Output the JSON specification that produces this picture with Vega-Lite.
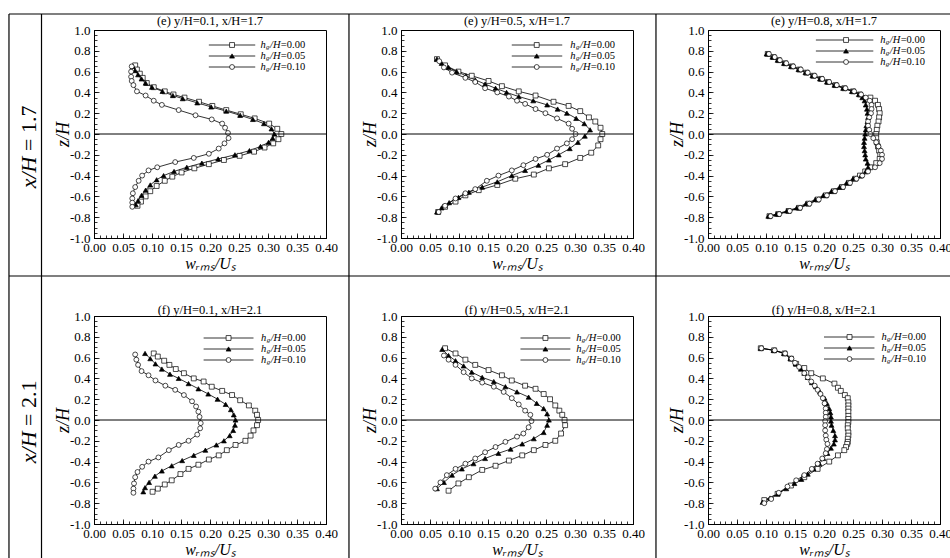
{
  "$schema": "https://vega.github.io/schema/vega-lite/v6.json",
  "background": "white",
  "padding": {"left": 7, "top": 12, "right": 0, "bottom": 0},
  "config": {
    "font": "Liberation Serif",
    "view": {"stroke": "black", "strokeWidth": 1},
    "axis": {"grid": false, "domainColor": "black", "domainWidth": 1, "tickColor": "black", "tickWidth": 0.8, "labelColor": "black", "titleColor": "black", "labelFont": "Liberation Serif", "titleFont": "Liberation Serif", "labelFontSize": 13, "titleFontWeight": "normal", "labelOverlap": false, "labelFlush": false},
    "text": {"font": "Liberation Serif", "fill": "black"}
  },
  "datasets": {
    "leg": [{"s": "0.00", "lab": "=0.00"}, {"s": "0.05", "lab": "=0.05"}, {"s": "0.10", "lab": "=0.10"}],
    "d": [
      {"p":1,"s":"0.00","w":0.071,"z":0.66},{"p":1,"s":"0.00","w":0.074,"z":0.62},{"p":1,"s":"0.00","w":0.079,"z":0.58},{"p":1,"s":"0.00","w":0.084,"z":0.54},{"p":1,"s":"0.00","w":0.091,"z":0.49},{"p":1,"s":"0.00","w":0.103,"z":0.45},{"p":1,"s":"0.00","w":0.122,"z":0.41},{"p":1,"s":"0.00","w":0.137,"z":0.38},{"p":1,"s":"0.00","w":0.156,"z":0.35},{"p":1,"s":"0.00","w":0.181,"z":0.31},{"p":1,"s":"0.00","w":0.204,"z":0.27},{"p":1,"s":"0.00","w":0.228,"z":0.23},{"p":1,"s":"0.00","w":0.253,"z":0.19},{"p":1,"s":"0.00","w":0.277,"z":0.15},{"p":1,"s":"0.00","w":0.302,"z":0.10},{"p":1,"s":"0.00","w":0.316,"z":0.05},{"p":1,"s":"0.00","w":0.323,"z":0.00},{"p":1,"s":"0.00","w":0.318,"z":-0.05},{"p":1,"s":"0.00","w":0.309,"z":-0.09},{"p":1,"s":"0.00","w":0.294,"z":-0.13},{"p":1,"s":"0.00","w":0.276,"z":-0.17},{"p":1,"s":"0.00","w":0.251,"z":-0.21},{"p":1,"s":"0.00","w":0.224,"z":-0.25},{"p":1,"s":"0.00","w":0.198,"z":-0.29},{"p":1,"s":"0.00","w":0.173,"z":-0.33},{"p":1,"s":"0.00","w":0.151,"z":-0.37},{"p":1,"s":"0.00","w":0.135,"z":-0.41},{"p":1,"s":"0.00","w":0.122,"z":-0.45},{"p":1,"s":"0.00","w":0.108,"z":-0.50},{"p":1,"s":"0.00","w":0.097,"z":-0.55},{"p":1,"s":"0.00","w":0.089,"z":-0.60},{"p":1,"s":"0.00","w":0.081,"z":-0.65},{"p":1,"s":"0.00","w":0.075,"z":-0.69},
      {"p":1,"s":"0.05","w":0.067,"z":0.65},{"p":1,"s":"0.05","w":0.071,"z":0.61},{"p":1,"s":"0.05","w":0.076,"z":0.57},{"p":1,"s":"0.05","w":0.082,"z":0.53},{"p":1,"s":"0.05","w":0.089,"z":0.49},{"p":1,"s":"0.05","w":0.100,"z":0.45},{"p":1,"s":"0.05","w":0.118,"z":0.41},{"p":1,"s":"0.05","w":0.136,"z":0.37},{"p":1,"s":"0.05","w":0.153,"z":0.34},{"p":1,"s":"0.05","w":0.178,"z":0.30},{"p":1,"s":"0.05","w":0.202,"z":0.26},{"p":1,"s":"0.05","w":0.228,"z":0.22},{"p":1,"s":"0.05","w":0.252,"z":0.18},{"p":1,"s":"0.05","w":0.274,"z":0.14},{"p":1,"s":"0.05","w":0.293,"z":0.10},{"p":1,"s":"0.05","w":0.306,"z":0.05},{"p":1,"s":"0.05","w":0.311,"z":0.00},{"p":1,"s":"0.05","w":0.308,"z":-0.04},{"p":1,"s":"0.05","w":0.301,"z":-0.08},{"p":1,"s":"0.05","w":0.287,"z":-0.12},{"p":1,"s":"0.05","w":0.268,"z":-0.16},{"p":1,"s":"0.05","w":0.243,"z":-0.20},{"p":1,"s":"0.05","w":0.214,"z":-0.24},{"p":1,"s":"0.05","w":0.186,"z":-0.28},{"p":1,"s":"0.05","w":0.160,"z":-0.32},{"p":1,"s":"0.05","w":0.138,"z":-0.36},{"p":1,"s":"0.05","w":0.120,"z":-0.40},{"p":1,"s":"0.05","w":0.108,"z":-0.44},{"p":1,"s":"0.05","w":0.097,"z":-0.49},{"p":1,"s":"0.05","w":0.089,"z":-0.54},{"p":1,"s":"0.05","w":0.082,"z":-0.59},{"p":1,"s":"0.05","w":0.076,"z":-0.64},{"p":1,"s":"0.05","w":0.072,"z":-0.68},
      {"p":1,"s":"0.10","w":0.065,"z":0.65},{"p":1,"s":"0.10","w":0.064,"z":0.60},{"p":1,"s":"0.10","w":0.064,"z":0.55},{"p":1,"s":"0.10","w":0.065,"z":0.51},{"p":1,"s":"0.10","w":0.068,"z":0.47},{"p":1,"s":"0.10","w":0.074,"z":0.41},{"p":1,"s":"0.10","w":0.089,"z":0.37},{"p":1,"s":"0.10","w":0.103,"z":0.32},{"p":1,"s":"0.10","w":0.117,"z":0.28},{"p":1,"s":"0.10","w":0.146,"z":0.23},{"p":1,"s":"0.10","w":0.175,"z":0.18},{"p":1,"s":"0.10","w":0.203,"z":0.14},{"p":1,"s":"0.10","w":0.221,"z":0.10},{"p":1,"s":"0.10","w":0.226,"z":0.06},{"p":1,"s":"0.10","w":0.231,"z":0.01},{"p":1,"s":"0.10","w":0.232,"z":-0.04},{"p":1,"s":"0.10","w":0.225,"z":-0.09},{"p":1,"s":"0.10","w":0.215,"z":-0.14},{"p":1,"s":"0.10","w":0.198,"z":-0.19},{"p":1,"s":"0.10","w":0.172,"z":-0.23},{"p":1,"s":"0.10","w":0.140,"z":-0.27},{"p":1,"s":"0.10","w":0.109,"z":-0.32},{"p":1,"s":"0.10","w":0.094,"z":-0.35},{"p":1,"s":"0.10","w":0.083,"z":-0.40},{"p":1,"s":"0.10","w":0.077,"z":-0.45},{"p":1,"s":"0.10","w":0.071,"z":-0.51},{"p":1,"s":"0.10","w":0.067,"z":-0.57},{"p":1,"s":"0.10","w":0.066,"z":-0.62},{"p":1,"s":"0.10","w":0.066,"z":-0.66},{"p":1,"s":"0.10","w":0.066,"z":-0.70},
      {"p":2,"s":"0.00","w":0.062,"z":0.72},{"p":2,"s":"0.00","w":0.076,"z":0.66},{"p":2,"s":"0.00","w":0.099,"z":0.60},{"p":2,"s":"0.00","w":0.122,"z":0.56},{"p":2,"s":"0.00","w":0.151,"z":0.51},{"p":2,"s":"0.00","w":0.174,"z":0.46},{"p":2,"s":"0.00","w":0.203,"z":0.41},{"p":2,"s":"0.00","w":0.232,"z":0.37},{"p":2,"s":"0.00","w":0.263,"z":0.31},{"p":2,"s":"0.00","w":0.289,"z":0.27},{"p":2,"s":"0.00","w":0.309,"z":0.22},{"p":2,"s":"0.00","w":0.324,"z":0.16},{"p":2,"s":"0.00","w":0.335,"z":0.12},{"p":2,"s":"0.00","w":0.344,"z":0.06},{"p":2,"s":"0.00","w":0.347,"z":0.00},{"p":2,"s":"0.00","w":0.344,"z":-0.05},{"p":2,"s":"0.00","w":0.340,"z":-0.11},{"p":2,"s":"0.00","w":0.328,"z":-0.18},{"p":2,"s":"0.00","w":0.309,"z":-0.23},{"p":2,"s":"0.00","w":0.283,"z":-0.29},{"p":2,"s":"0.00","w":0.255,"z":-0.33},{"p":2,"s":"0.00","w":0.229,"z":-0.39},{"p":2,"s":"0.00","w":0.197,"z":-0.43},{"p":2,"s":"0.00","w":0.166,"z":-0.49},{"p":2,"s":"0.00","w":0.134,"z":-0.54},{"p":2,"s":"0.00","w":0.111,"z":-0.59},{"p":2,"s":"0.00","w":0.094,"z":-0.65},{"p":2,"s":"0.00","w":0.076,"z":-0.70},{"p":2,"s":"0.00","w":0.064,"z":-0.75},
      {"p":2,"s":"0.05","w":0.062,"z":0.72},{"p":2,"s":"0.05","w":0.070,"z":0.68},{"p":2,"s":"0.05","w":0.082,"z":0.64},{"p":2,"s":"0.05","w":0.096,"z":0.60},{"p":2,"s":"0.05","w":0.112,"z":0.56},{"p":2,"s":"0.05","w":0.128,"z":0.52},{"p":2,"s":"0.05","w":0.145,"z":0.48},{"p":2,"s":"0.05","w":0.163,"z":0.44},{"p":2,"s":"0.05","w":0.182,"z":0.40},{"p":2,"s":"0.05","w":0.203,"z":0.36},{"p":2,"s":"0.05","w":0.228,"z":0.32},{"p":2,"s":"0.05","w":0.252,"z":0.28},{"p":2,"s":"0.05","w":0.270,"z":0.24},{"p":2,"s":"0.05","w":0.286,"z":0.20},{"p":2,"s":"0.05","w":0.302,"z":0.15},{"p":2,"s":"0.05","w":0.316,"z":0.10},{"p":2,"s":"0.05","w":0.326,"z":0.04},{"p":2,"s":"0.05","w":0.317,"z":-0.02},{"p":2,"s":"0.05","w":0.305,"z":-0.08},{"p":2,"s":"0.05","w":0.291,"z":-0.14},{"p":2,"s":"0.05","w":0.272,"z":-0.20},{"p":2,"s":"0.05","w":0.255,"z":-0.25},{"p":2,"s":"0.05","w":0.237,"z":-0.30},{"p":2,"s":"0.05","w":0.214,"z":-0.35},{"p":2,"s":"0.05","w":0.191,"z":-0.40},{"p":2,"s":"0.05","w":0.166,"z":-0.46},{"p":2,"s":"0.05","w":0.140,"z":-0.51},{"p":2,"s":"0.05","w":0.117,"z":-0.56},{"p":2,"s":"0.05","w":0.099,"z":-0.61},{"p":2,"s":"0.05","w":0.083,"z":-0.66},{"p":2,"s":"0.05","w":0.070,"z":-0.71},{"p":2,"s":"0.05","w":0.062,"z":-0.75},
      {"p":2,"s":"0.10","w":0.066,"z":0.70},{"p":2,"s":"0.10","w":0.074,"z":0.64},{"p":2,"s":"0.10","w":0.088,"z":0.59},{"p":2,"s":"0.10","w":0.111,"z":0.54},{"p":2,"s":"0.10","w":0.128,"z":0.50},{"p":2,"s":"0.10","w":0.145,"z":0.44},{"p":2,"s":"0.10","w":0.166,"z":0.40},{"p":2,"s":"0.10","w":0.186,"z":0.36},{"p":2,"s":"0.10","w":0.200,"z":0.32},{"p":2,"s":"0.10","w":0.214,"z":0.29},{"p":2,"s":"0.10","w":0.232,"z":0.24},{"p":2,"s":"0.10","w":0.249,"z":0.20},{"p":2,"s":"0.10","w":0.269,"z":0.15},{"p":2,"s":"0.10","w":0.289,"z":0.10},{"p":2,"s":"0.10","w":0.295,"z":0.05},{"p":2,"s":"0.10","w":0.301,"z":0.00},{"p":2,"s":"0.10","w":0.295,"z":-0.05},{"p":2,"s":"0.10","w":0.286,"z":-0.09},{"p":2,"s":"0.10","w":0.269,"z":-0.14},{"p":2,"s":"0.10","w":0.252,"z":-0.20},{"p":2,"s":"0.10","w":0.232,"z":-0.24},{"p":2,"s":"0.10","w":0.211,"z":-0.30},{"p":2,"s":"0.10","w":0.191,"z":-0.35},{"p":2,"s":"0.10","w":0.168,"z":-0.40},{"p":2,"s":"0.10","w":0.148,"z":-0.45},{"p":2,"s":"0.10","w":0.128,"z":-0.53},{"p":2,"s":"0.10","w":0.111,"z":-0.57},{"p":2,"s":"0.10","w":0.094,"z":-0.62},{"p":2,"s":"0.10","w":0.076,"z":-0.69},{"p":2,"s":"0.10","w":0.065,"z":-0.75},
      {"p":3,"s":"0.00","w":0.103,"z":0.77},{"p":3,"s":"0.00","w":0.113,"z":0.74},{"p":3,"s":"0.00","w":0.122,"z":0.71},{"p":3,"s":"0.00","w":0.133,"z":0.68},{"p":3,"s":"0.00","w":0.145,"z":0.65},{"p":3,"s":"0.00","w":0.158,"z":0.62},{"p":3,"s":"0.00","w":0.170,"z":0.59},{"p":3,"s":"0.00","w":0.182,"z":0.56},{"p":3,"s":"0.00","w":0.195,"z":0.53},{"p":3,"s":"0.00","w":0.207,"z":0.50},{"p":3,"s":"0.00","w":0.220,"z":0.47},{"p":3,"s":"0.00","w":0.235,"z":0.44},{"p":3,"s":"0.00","w":0.250,"z":0.41},{"p":3,"s":"0.00","w":0.262,"z":0.38},{"p":3,"s":"0.00","w":0.280,"z":0.35},{"p":3,"s":"0.00","w":0.288,"z":0.32},{"p":3,"s":"0.00","w":0.293,"z":0.28},{"p":3,"s":"0.00","w":0.295,"z":0.24},{"p":3,"s":"0.00","w":0.296,"z":0.20},{"p":3,"s":"0.00","w":0.295,"z":0.16},{"p":3,"s":"0.00","w":0.294,"z":0.12},{"p":3,"s":"0.00","w":0.292,"z":0.08},{"p":3,"s":"0.00","w":0.291,"z":0.04},{"p":3,"s":"0.00","w":0.290,"z":0.00},{"p":3,"s":"0.00","w":0.290,"z":-0.04},{"p":3,"s":"0.00","w":0.291,"z":-0.08},{"p":3,"s":"0.00","w":0.293,"z":-0.12},{"p":3,"s":"0.00","w":0.295,"z":-0.16},{"p":3,"s":"0.00","w":0.297,"z":-0.20},{"p":3,"s":"0.00","w":0.296,"z":-0.24},{"p":3,"s":"0.00","w":0.290,"z":-0.28},{"p":3,"s":"0.00","w":0.280,"z":-0.32},{"p":3,"s":"0.00","w":0.271,"z":-0.36},{"p":3,"s":"0.00","w":0.262,"z":-0.40},{"p":3,"s":"0.00","w":0.254,"z":-0.43},{"p":3,"s":"0.00","w":0.243,"z":-0.47},{"p":3,"s":"0.00","w":0.231,"z":-0.51},{"p":3,"s":"0.00","w":0.217,"z":-0.55},{"p":3,"s":"0.00","w":0.203,"z":-0.59},{"p":3,"s":"0.00","w":0.189,"z":-0.63},{"p":3,"s":"0.00","w":0.173,"z":-0.67},{"p":3,"s":"0.00","w":0.157,"z":-0.71},{"p":3,"s":"0.00","w":0.139,"z":-0.74},{"p":3,"s":"0.00","w":0.121,"z":-0.77},{"p":3,"s":"0.00","w":0.106,"z":-0.79},
      {"p":3,"s":"0.05","w":0.101,"z":0.77},{"p":3,"s":"0.05","w":0.111,"z":0.74},{"p":3,"s":"0.05","w":0.120,"z":0.71},{"p":3,"s":"0.05","w":0.131,"z":0.68},{"p":3,"s":"0.05","w":0.143,"z":0.65},{"p":3,"s":"0.05","w":0.156,"z":0.62},{"p":3,"s":"0.05","w":0.168,"z":0.59},{"p":3,"s":"0.05","w":0.180,"z":0.56},{"p":3,"s":"0.05","w":0.193,"z":0.53},{"p":3,"s":"0.05","w":0.205,"z":0.50},{"p":3,"s":"0.05","w":0.218,"z":0.47},{"p":3,"s":"0.05","w":0.233,"z":0.44},{"p":3,"s":"0.05","w":0.248,"z":0.41},{"p":3,"s":"0.05","w":0.260,"z":0.38},{"p":3,"s":"0.05","w":0.266,"z":0.35},{"p":3,"s":"0.05","w":0.270,"z":0.32},{"p":3,"s":"0.05","w":0.272,"z":0.28},{"p":3,"s":"0.05","w":0.274,"z":0.24},{"p":3,"s":"0.05","w":0.275,"z":0.20},{"p":3,"s":"0.05","w":0.276,"z":0.16},{"p":3,"s":"0.05","w":0.275,"z":0.12},{"p":3,"s":"0.05","w":0.273,"z":0.08},{"p":3,"s":"0.05","w":0.272,"z":0.04},{"p":3,"s":"0.05","w":0.271,"z":0.00},{"p":3,"s":"0.05","w":0.270,"z":-0.04},{"p":3,"s":"0.05","w":0.269,"z":-0.08},{"p":3,"s":"0.05","w":0.269,"z":-0.12},{"p":3,"s":"0.05","w":0.270,"z":-0.16},{"p":3,"s":"0.05","w":0.271,"z":-0.20},{"p":3,"s":"0.05","w":0.272,"z":-0.24},{"p":3,"s":"0.05","w":0.275,"z":-0.28},{"p":3,"s":"0.05","w":0.276,"z":-0.32},{"p":3,"s":"0.05","w":0.272,"z":-0.36},{"p":3,"s":"0.05","w":0.264,"z":-0.40},{"p":3,"s":"0.05","w":0.250,"z":-0.43},{"p":3,"s":"0.05","w":0.239,"z":-0.47},{"p":3,"s":"0.05","w":0.227,"z":-0.51},{"p":3,"s":"0.05","w":0.213,"z":-0.55},{"p":3,"s":"0.05","w":0.199,"z":-0.59},{"p":3,"s":"0.05","w":0.185,"z":-0.63},{"p":3,"s":"0.05","w":0.169,"z":-0.67},{"p":3,"s":"0.05","w":0.153,"z":-0.71},{"p":3,"s":"0.05","w":0.136,"z":-0.74},{"p":3,"s":"0.05","w":0.118,"z":-0.77},{"p":3,"s":"0.05","w":0.104,"z":-0.79},
      {"p":3,"s":"0.10","w":0.105,"z":0.77},{"p":3,"s":"0.10","w":0.115,"z":0.74},{"p":3,"s":"0.10","w":0.124,"z":0.71},{"p":3,"s":"0.10","w":0.135,"z":0.68},{"p":3,"s":"0.10","w":0.147,"z":0.65},{"p":3,"s":"0.10","w":0.160,"z":0.62},{"p":3,"s":"0.10","w":0.172,"z":0.59},{"p":3,"s":"0.10","w":0.184,"z":0.56},{"p":3,"s":"0.10","w":0.197,"z":0.53},{"p":3,"s":"0.10","w":0.209,"z":0.50},{"p":3,"s":"0.10","w":0.222,"z":0.47},{"p":3,"s":"0.10","w":0.237,"z":0.44},{"p":3,"s":"0.10","w":0.252,"z":0.41},{"p":3,"s":"0.10","w":0.264,"z":0.38},{"p":3,"s":"0.10","w":0.272,"z":0.35},{"p":3,"s":"0.10","w":0.279,"z":0.32},{"p":3,"s":"0.10","w":0.282,"z":0.28},{"p":3,"s":"0.10","w":0.282,"z":0.24},{"p":3,"s":"0.10","w":0.281,"z":0.20},{"p":3,"s":"0.10","w":0.278,"z":0.16},{"p":3,"s":"0.10","w":0.276,"z":0.12},{"p":3,"s":"0.10","w":0.276,"z":0.08},{"p":3,"s":"0.10","w":0.278,"z":0.04},{"p":3,"s":"0.10","w":0.280,"z":0.00},{"p":3,"s":"0.10","w":0.285,"z":-0.04},{"p":3,"s":"0.10","w":0.290,"z":-0.08},{"p":3,"s":"0.10","w":0.294,"z":-0.12},{"p":3,"s":"0.10","w":0.298,"z":-0.16},{"p":3,"s":"0.10","w":0.300,"z":-0.20},{"p":3,"s":"0.10","w":0.300,"z":-0.24},{"p":3,"s":"0.10","w":0.296,"z":-0.28},{"p":3,"s":"0.10","w":0.288,"z":-0.32},{"p":3,"s":"0.10","w":0.276,"z":-0.36},{"p":3,"s":"0.10","w":0.266,"z":-0.40},{"p":3,"s":"0.10","w":0.256,"z":-0.43},{"p":3,"s":"0.10","w":0.245,"z":-0.47},{"p":3,"s":"0.10","w":0.233,"z":-0.51},{"p":3,"s":"0.10","w":0.219,"z":-0.55},{"p":3,"s":"0.10","w":0.205,"z":-0.59},{"p":3,"s":"0.10","w":0.191,"z":-0.63},{"p":3,"s":"0.10","w":0.175,"z":-0.67},{"p":3,"s":"0.10","w":0.159,"z":-0.71},{"p":3,"s":"0.10","w":0.141,"z":-0.74},{"p":3,"s":"0.10","w":0.123,"z":-0.77},{"p":3,"s":"0.10","w":0.108,"z":-0.79},
      {"p":4,"s":"0.00","w":0.103,"z":0.64},{"p":4,"s":"0.00","w":0.110,"z":0.61},{"p":4,"s":"0.00","w":0.121,"z":0.57},{"p":4,"s":"0.00","w":0.130,"z":0.53},{"p":4,"s":"0.00","w":0.141,"z":0.49},{"p":4,"s":"0.00","w":0.155,"z":0.45},{"p":4,"s":"0.00","w":0.172,"z":0.40},{"p":4,"s":"0.00","w":0.189,"z":0.37},{"p":4,"s":"0.00","w":0.203,"z":0.32},{"p":4,"s":"0.00","w":0.221,"z":0.28},{"p":4,"s":"0.00","w":0.238,"z":0.24},{"p":4,"s":"0.00","w":0.252,"z":0.19},{"p":4,"s":"0.00","w":0.267,"z":0.14},{"p":4,"s":"0.00","w":0.278,"z":0.09},{"p":4,"s":"0.00","w":0.281,"z":0.05},{"p":4,"s":"0.00","w":0.283,"z":0.00},{"p":4,"s":"0.00","w":0.281,"z":-0.05},{"p":4,"s":"0.00","w":0.275,"z":-0.10},{"p":4,"s":"0.00","w":0.270,"z":-0.15},{"p":4,"s":"0.00","w":0.261,"z":-0.20},{"p":4,"s":"0.00","w":0.244,"z":-0.24},{"p":4,"s":"0.00","w":0.229,"z":-0.29},{"p":4,"s":"0.00","w":0.215,"z":-0.34},{"p":4,"s":"0.00","w":0.198,"z":-0.38},{"p":4,"s":"0.00","w":0.180,"z":-0.43},{"p":4,"s":"0.00","w":0.163,"z":-0.47},{"p":4,"s":"0.00","w":0.149,"z":-0.52},{"p":4,"s":"0.00","w":0.134,"z":-0.58},{"p":4,"s":"0.00","w":0.122,"z":-0.62},{"p":4,"s":"0.00","w":0.110,"z":-0.66},{"p":4,"s":"0.00","w":0.101,"z":-0.69},
      {"p":4,"s":"0.05","w":0.088,"z":0.64},{"p":4,"s":"0.05","w":0.097,"z":0.59},{"p":4,"s":"0.05","w":0.106,"z":0.54},{"p":4,"s":"0.05","w":0.117,"z":0.49},{"p":4,"s":"0.05","w":0.131,"z":0.44},{"p":4,"s":"0.05","w":0.146,"z":0.40},{"p":4,"s":"0.05","w":0.163,"z":0.35},{"p":4,"s":"0.05","w":0.180,"z":0.30},{"p":4,"s":"0.05","w":0.197,"z":0.25},{"p":4,"s":"0.05","w":0.213,"z":0.20},{"p":4,"s":"0.05","w":0.227,"z":0.15},{"p":4,"s":"0.05","w":0.236,"z":0.10},{"p":4,"s":"0.05","w":0.241,"z":0.05},{"p":4,"s":"0.05","w":0.244,"z":0.00},{"p":4,"s":"0.05","w":0.243,"z":-0.05},{"p":4,"s":"0.05","w":0.240,"z":-0.10},{"p":4,"s":"0.05","w":0.234,"z":-0.15},{"p":4,"s":"0.05","w":0.224,"z":-0.20},{"p":4,"s":"0.05","w":0.211,"z":-0.24},{"p":4,"s":"0.05","w":0.192,"z":-0.29},{"p":4,"s":"0.05","w":0.172,"z":-0.34},{"p":4,"s":"0.05","w":0.152,"z":-0.39},{"p":4,"s":"0.05","w":0.134,"z":-0.44},{"p":4,"s":"0.05","w":0.117,"z":-0.49},{"p":4,"s":"0.05","w":0.105,"z":-0.54},{"p":4,"s":"0.05","w":0.095,"z":-0.60},{"p":4,"s":"0.05","w":0.088,"z":-0.65},{"p":4,"s":"0.05","w":0.085,"z":-0.69},
      {"p":4,"s":"0.10","w":0.071,"z":0.63},{"p":4,"s":"0.10","w":0.073,"z":0.58},{"p":4,"s":"0.10","w":0.076,"z":0.53},{"p":4,"s":"0.10","w":0.082,"z":0.47},{"p":4,"s":"0.10","w":0.094,"z":0.43},{"p":4,"s":"0.10","w":0.106,"z":0.38},{"p":4,"s":"0.10","w":0.123,"z":0.33},{"p":4,"s":"0.10","w":0.140,"z":0.29},{"p":4,"s":"0.10","w":0.155,"z":0.24},{"p":4,"s":"0.10","w":0.169,"z":0.18},{"p":4,"s":"0.10","w":0.176,"z":0.13},{"p":4,"s":"0.10","w":0.180,"z":0.08},{"p":4,"s":"0.10","w":0.182,"z":0.03},{"p":4,"s":"0.10","w":0.184,"z":-0.03},{"p":4,"s":"0.10","w":0.183,"z":-0.08},{"p":4,"s":"0.10","w":0.178,"z":-0.14},{"p":4,"s":"0.10","w":0.163,"z":-0.20},{"p":4,"s":"0.10","w":0.146,"z":-0.24},{"p":4,"s":"0.10","w":0.129,"z":-0.29},{"p":4,"s":"0.10","w":0.111,"z":-0.36},{"p":4,"s":"0.10","w":0.094,"z":-0.40},{"p":4,"s":"0.10","w":0.083,"z":-0.45},{"p":4,"s":"0.10","w":0.075,"z":-0.50},{"p":4,"s":"0.10","w":0.071,"z":-0.55},{"p":4,"s":"0.10","w":0.069,"z":-0.61},{"p":4,"s":"0.10","w":0.068,"z":-0.66},{"p":4,"s":"0.10","w":0.068,"z":-0.70},
      {"p":5,"s":"0.00","w":0.076,"z":0.69},{"p":5,"s":"0.00","w":0.094,"z":0.64},{"p":5,"s":"0.00","w":0.111,"z":0.58},{"p":5,"s":"0.00","w":0.128,"z":0.53},{"p":5,"s":"0.00","w":0.151,"z":0.48},{"p":5,"s":"0.00","w":0.174,"z":0.43},{"p":5,"s":"0.00","w":0.191,"z":0.38},{"p":5,"s":"0.00","w":0.214,"z":0.33},{"p":5,"s":"0.00","w":0.232,"z":0.30},{"p":5,"s":"0.00","w":0.246,"z":0.25},{"p":5,"s":"0.00","w":0.257,"z":0.20},{"p":5,"s":"0.00","w":0.266,"z":0.14},{"p":5,"s":"0.00","w":0.273,"z":0.09},{"p":5,"s":"0.00","w":0.278,"z":0.05},{"p":5,"s":"0.00","w":0.282,"z":0.00},{"p":5,"s":"0.00","w":0.283,"z":-0.05},{"p":5,"s":"0.00","w":0.276,"z":-0.13},{"p":5,"s":"0.00","w":0.266,"z":-0.20},{"p":5,"s":"0.00","w":0.249,"z":-0.24},{"p":5,"s":"0.00","w":0.229,"z":-0.29},{"p":5,"s":"0.00","w":0.209,"z":-0.34},{"p":5,"s":"0.00","w":0.186,"z":-0.39},{"p":5,"s":"0.00","w":0.163,"z":-0.44},{"p":5,"s":"0.00","w":0.140,"z":-0.48},{"p":5,"s":"0.00","w":0.117,"z":-0.55},{"p":5,"s":"0.00","w":0.099,"z":-0.61},{"p":5,"s":"0.00","w":0.082,"z":-0.68},
      {"p":5,"s":"0.05","w":0.071,"z":0.68},{"p":5,"s":"0.05","w":0.082,"z":0.62},{"p":5,"s":"0.05","w":0.094,"z":0.57},{"p":5,"s":"0.05","w":0.108,"z":0.52},{"p":5,"s":"0.05","w":0.122,"z":0.46},{"p":5,"s":"0.05","w":0.140,"z":0.41},{"p":5,"s":"0.05","w":0.160,"z":0.37},{"p":5,"s":"0.05","w":0.180,"z":0.32},{"p":5,"s":"0.05","w":0.200,"z":0.27},{"p":5,"s":"0.05","w":0.220,"z":0.22},{"p":5,"s":"0.05","w":0.234,"z":0.16},{"p":5,"s":"0.05","w":0.246,"z":0.11},{"p":5,"s":"0.05","w":0.252,"z":0.06},{"p":5,"s":"0.05","w":0.255,"z":0.00},{"p":5,"s":"0.05","w":0.252,"z":-0.05},{"p":5,"s":"0.05","w":0.246,"z":-0.12},{"p":5,"s":"0.05","w":0.229,"z":-0.18},{"p":5,"s":"0.05","w":0.209,"z":-0.23},{"p":5,"s":"0.05","w":0.189,"z":-0.28},{"p":5,"s":"0.05","w":0.168,"z":-0.32},{"p":5,"s":"0.05","w":0.145,"z":-0.37},{"p":5,"s":"0.05","w":0.125,"z":-0.42},{"p":5,"s":"0.05","w":0.105,"z":-0.47},{"p":5,"s":"0.05","w":0.088,"z":-0.53},{"p":5,"s":"0.05","w":0.074,"z":-0.60},{"p":5,"s":"0.05","w":0.062,"z":-0.66},
      {"p":5,"s":"0.10","w":0.074,"z":0.62},{"p":5,"s":"0.10","w":0.082,"z":0.58},{"p":5,"s":"0.10","w":0.094,"z":0.53},{"p":5,"s":"0.10","w":0.108,"z":0.46},{"p":5,"s":"0.10","w":0.122,"z":0.40},{"p":5,"s":"0.10","w":0.140,"z":0.36},{"p":5,"s":"0.10","w":0.160,"z":0.32},{"p":5,"s":"0.10","w":0.177,"z":0.27},{"p":5,"s":"0.10","w":0.191,"z":0.21},{"p":5,"s":"0.10","w":0.203,"z":0.15},{"p":5,"s":"0.10","w":0.214,"z":0.09},{"p":5,"s":"0.10","w":0.223,"z":0.05},{"p":5,"s":"0.10","w":0.225,"z":-0.01},{"p":5,"s":"0.10","w":0.220,"z":-0.07},{"p":5,"s":"0.10","w":0.211,"z":-0.13},{"p":5,"s":"0.10","w":0.200,"z":-0.16},{"p":5,"s":"0.10","w":0.180,"z":-0.21},{"p":5,"s":"0.10","w":0.163,"z":-0.26},{"p":5,"s":"0.10","w":0.145,"z":-0.31},{"p":5,"s":"0.10","w":0.128,"z":-0.37},{"p":5,"s":"0.10","w":0.111,"z":-0.42},{"p":5,"s":"0.10","w":0.094,"z":-0.47},{"p":5,"s":"0.10","w":0.079,"z":-0.53},{"p":5,"s":"0.10","w":0.068,"z":-0.60},{"p":5,"s":"0.10","w":0.059,"z":-0.66},
      {"p":6,"s":"0.00","w":0.091,"z":0.69},{"p":6,"s":"0.00","w":0.114,"z":0.67},{"p":6,"s":"0.00","w":0.132,"z":0.64},{"p":6,"s":"0.00","w":0.143,"z":0.59},{"p":6,"s":"0.00","w":0.152,"z":0.54},{"p":6,"s":"0.00","w":0.166,"z":0.50},{"p":6,"s":"0.00","w":0.178,"z":0.45},{"p":6,"s":"0.00","w":0.198,"z":0.40},{"p":6,"s":"0.00","w":0.218,"z":0.35},{"p":6,"s":"0.00","w":0.224,"z":0.31},{"p":6,"s":"0.00","w":0.229,"z":0.28},{"p":6,"s":"0.00","w":0.236,"z":0.24},{"p":6,"s":"0.00","w":0.241,"z":0.21},{"p":6,"s":"0.00","w":0.242,"z":0.17},{"p":6,"s":"0.00","w":0.242,"z":0.14},{"p":6,"s":"0.00","w":0.242,"z":0.11},{"p":6,"s":"0.00","w":0.242,"z":0.08},{"p":6,"s":"0.00","w":0.242,"z":0.04},{"p":6,"s":"0.00","w":0.242,"z":0.01},{"p":6,"s":"0.00","w":0.242,"z":-0.02},{"p":6,"s":"0.00","w":0.241,"z":-0.05},{"p":6,"s":"0.00","w":0.241,"z":-0.08},{"p":6,"s":"0.00","w":0.242,"z":-0.12},{"p":6,"s":"0.00","w":0.242,"z":-0.15},{"p":6,"s":"0.00","w":0.241,"z":-0.18},{"p":6,"s":"0.00","w":0.241,"z":-0.21},{"p":6,"s":"0.00","w":0.240,"z":-0.23},{"p":6,"s":"0.00","w":0.238,"z":-0.26},{"p":6,"s":"0.00","w":0.235,"z":-0.29},{"p":6,"s":"0.00","w":0.224,"z":-0.34},{"p":6,"s":"0.00","w":0.209,"z":-0.40},{"p":6,"s":"0.00","w":0.189,"z":-0.47},{"p":6,"s":"0.00","w":0.166,"z":-0.55},{"p":6,"s":"0.00","w":0.143,"z":-0.63},{"p":6,"s":"0.00","w":0.120,"z":-0.71},{"p":6,"s":"0.00","w":0.097,"z":-0.77},
      {"p":6,"s":"0.05","w":0.091,"z":0.69},{"p":6,"s":"0.05","w":0.113,"z":0.67},{"p":6,"s":"0.05","w":0.131,"z":0.64},{"p":6,"s":"0.05","w":0.142,"z":0.59},{"p":6,"s":"0.05","w":0.151,"z":0.54},{"p":6,"s":"0.05","w":0.160,"z":0.49},{"p":6,"s":"0.05","w":0.166,"z":0.45},{"p":6,"s":"0.05","w":0.172,"z":0.41},{"p":6,"s":"0.05","w":0.179,"z":0.36},{"p":6,"s":"0.05","w":0.186,"z":0.32},{"p":6,"s":"0.05","w":0.193,"z":0.27},{"p":6,"s":"0.05","w":0.201,"z":0.21},{"p":6,"s":"0.05","w":0.205,"z":0.16},{"p":6,"s":"0.05","w":0.209,"z":0.11},{"p":6,"s":"0.05","w":0.211,"z":0.07},{"p":6,"s":"0.05","w":0.212,"z":0.03},{"p":6,"s":"0.05","w":0.212,"z":-0.01},{"p":6,"s":"0.05","w":0.213,"z":-0.05},{"p":6,"s":"0.05","w":0.216,"z":-0.10},{"p":6,"s":"0.05","w":0.219,"z":-0.15},{"p":6,"s":"0.05","w":0.219,"z":-0.19},{"p":6,"s":"0.05","w":0.217,"z":-0.23},{"p":6,"s":"0.05","w":0.212,"z":-0.27},{"p":6,"s":"0.05","w":0.206,"z":-0.32},{"p":6,"s":"0.05","w":0.199,"z":-0.37},{"p":6,"s":"0.05","w":0.192,"z":-0.42},{"p":6,"s":"0.05","w":0.182,"z":-0.47},{"p":6,"s":"0.05","w":0.172,"z":-0.52},{"p":6,"s":"0.05","w":0.161,"z":-0.57},{"p":6,"s":"0.05","w":0.149,"z":-0.61},{"p":6,"s":"0.05","w":0.135,"z":-0.66},{"p":6,"s":"0.05","w":0.120,"z":-0.71},{"p":6,"s":"0.05","w":0.107,"z":-0.75},{"p":6,"s":"0.05","w":0.094,"z":-0.79},
      {"p":6,"s":"0.10","w":0.092,"z":0.69},{"p":6,"s":"0.10","w":0.115,"z":0.67},{"p":6,"s":"0.10","w":0.133,"z":0.64},{"p":6,"s":"0.10","w":0.144,"z":0.59},{"p":6,"s":"0.10","w":0.150,"z":0.55},{"p":6,"s":"0.10","w":0.157,"z":0.51},{"p":6,"s":"0.10","w":0.166,"z":0.45},{"p":6,"s":"0.10","w":0.172,"z":0.41},{"p":6,"s":"0.10","w":0.178,"z":0.37},{"p":6,"s":"0.10","w":0.184,"z":0.33},{"p":6,"s":"0.10","w":0.189,"z":0.29},{"p":6,"s":"0.10","w":0.194,"z":0.25},{"p":6,"s":"0.10","w":0.198,"z":0.21},{"p":6,"s":"0.10","w":0.201,"z":0.16},{"p":6,"s":"0.10","w":0.203,"z":0.11},{"p":6,"s":"0.10","w":0.203,"z":0.07},{"p":6,"s":"0.10","w":0.203,"z":0.03},{"p":6,"s":"0.10","w":0.202,"z":-0.01},{"p":6,"s":"0.10","w":0.202,"z":-0.05},{"p":6,"s":"0.10","w":0.202,"z":-0.10},{"p":6,"s":"0.10","w":0.203,"z":-0.15},{"p":6,"s":"0.10","w":0.204,"z":-0.19},{"p":6,"s":"0.10","w":0.206,"z":-0.23},{"p":6,"s":"0.10","w":0.205,"z":-0.28},{"p":6,"s":"0.10","w":0.203,"z":-0.32},{"p":6,"s":"0.10","w":0.197,"z":-0.37},{"p":6,"s":"0.10","w":0.189,"z":-0.42},{"p":6,"s":"0.10","w":0.179,"z":-0.47},{"p":6,"s":"0.10","w":0.166,"z":-0.53},{"p":6,"s":"0.10","w":0.152,"z":-0.58},{"p":6,"s":"0.10","w":0.137,"z":-0.64},{"p":6,"s":"0.10","w":0.122,"z":-0.70},{"p":6,"s":"0.10","w":0.109,"z":-0.76},{"p":6,"s":"0.10","w":0.097,"z":-0.80}
    ]
  },
  "columns": 3,
  "spacing": {"row": 78, "column": 75},
  "bounds": "flush",
  "concat": [
    {
      "width": 232, "height": 208,
      "layer": [
        {"layer": [
          {"data": {"name": "d"}, "transform": [{"filter": "datum.p == 1"}],
           "encoding": {
             "x": {"field": "w", "type": "quantitative", "scale": {"domain": [0, 0.4], "nice": false, "zero": false},
                   "axis": {"title": "wᵣₘₛ/Uₛ", "titleFontStyle": "italic", "titleFontSize": 16, "titlePadding": 1, "labelPadding": 8, "tickSize": -5, "labelOverlap": false, "labelFlush": false, "format": ".2f", "values": [0,0.05,0.1,0.15,0.2,0.25,0.3,0.35,0.4]}},
             "y": {"field": "z", "type": "quantitative", "scale": {"domain": [-1, 1], "nice": false, "zero": false},
                   "axis": {"title": "z/H", "titleFontStyle": "italic", "titleFontSize": 18, "titlePadding": 1, "titleBaseline": "alphabetic", "labelPadding": 9, "tickSize": -5, "labelOverlap": false, "labelFlush": false, "values": [-1,-0.8,-0.6,-0.4,-0.2,0,0.2,0.4,0.6,0.8,1], "labelExpr": "replace(format(datum.value, '.1f'), '\u2212', '-')"}}
           },
           "layer": [
             {"mark": {"type": "line", "stroke": "black", "strokeWidth": 0.8}, "encoding": {"detail": {"field": "s"}, "order": {"field": "z", "type": "quantitative"}}},
             {"mark": {"type": "point", "filled": true, "stroke": "black", "strokeWidth": 0.7, "size": 24, "opacity": 1},
              "encoding": {"shape": {"field": "s", "type": "nominal", "scale": {"domain": ["0.00","0.05","0.10"], "range": ["square","triangle-up","circle"]}, "legend": null},
                           "fill": {"field": "s", "type": "nominal", "scale": {"domain": ["0.00","0.05","0.10"], "range": ["#ffffff","#000000","#ffffff"]}, "legend": null}}}
           ]},
          {"data": {"values": [{}]}, "mark": {"type": "point", "opacity": 0},
           "encoding": {"x": {"datum": 0, "axis": {"orient": "bottom", "title": null, "labels": false, "domain": false, "tickSize": -3, "values": [0,0.01,0.02,0.03,0.04,0.05,0.06,0.07,0.08,0.09,0.1,0.11,0.12,0.13,0.14,0.15,0.16,0.17,0.18,0.19,0.2,0.21,0.22,0.23,0.24,0.25,0.26,0.27,0.28,0.29,0.3,0.31,0.32,0.33,0.34,0.35,0.36,0.37,0.38,0.39,0.4]}},
                        "y": {"datum": 0, "axis": {"orient": "left", "title": null, "labels": false, "domain": false, "tickSize": -3, "values": [-1,-0.95,-0.9,-0.85,-0.8,-0.75,-0.7,-0.65,-0.6,-0.55,-0.5,-0.45,-0.4,-0.35,-0.3,-0.25,-0.2,-0.15,-0.1,-0.05,0,0.05,0.1,0.15,0.2,0.25,0.3,0.35,0.4,0.45,0.5,0.55,0.6,0.65,0.7,0.75,0.8,0.85,0.9,0.95,1]}}}},
          {"data": {"values": [{}]}, "mark": {"type": "rule", "stroke": "black", "strokeWidth": 1}, "encoding": {"y": {"datum": 0, "axis": null}}},
          {"data": {"values": [{}]}, "mark": {"type": "text", "fontSize": 12.5, "baseline": "alphabetic", "dy": -5}, "encoding": {"x": {"datum": 0.2, "axis": null}, "y": {"datum": 1, "axis": null}, "text": {"value": "(e) y/H=0.1, x/H=1.7"}}},
          {"data": {"values": [{}]}, "mark": {"type": "rule", "stroke": "black", "strokeWidth": 1.2}, "encoding": {"y": {"datum": 1.1538, "axis": null}, "x": {"datum": -0.1466, "axis": null}, "x2": {"datum": 0.4397}}},
          {"data": {"values": [{}]}, "mark": {"type": "rule", "stroke": "black", "strokeWidth": 1.2}, "encoding": {"y": {"datum": -1.3654, "axis": null}, "x": {"datum": -0.1466, "axis": null}, "x2": {"datum": 0.4397}}},
          {"data": {"values": [{}]}, "mark": {"type": "rule", "stroke": "black", "strokeWidth": 1.2}, "encoding": {"x": {"datum": -0.1466, "axis": null}, "y": {"datum": 1.1538, "axis": null}, "y2": {"datum": -1.3654}}},
          {"data": {"values": [{}]}, "mark": {"type": "rule", "stroke": "black", "strokeWidth": 1.2}, "encoding": {"x": {"datum": -0.0905, "axis": null}, "y": {"datum": 1.1538, "axis": null}, "y2": {"datum": -1.3654}}},
          {"data": {"values": [{}]}, "mark": {"type": "text", "angle": 270, "fontSize": 22, "fontStyle": "italic", "align": "right", "baseline": "middle", "dx": -9.5}, "encoding": {"x": {"datum": -0.1129, "axis": null}, "y": {"datum": -0.125, "axis": null}, "text": {"value": "x/H"}}},
          {"data": {"values": [{}]}, "mark": {"type": "text", "angle": 270, "fontSize": 22, "align": "left", "baseline": "middle", "dx": -4}, "encoding": {"x": {"datum": -0.1129, "axis": null}, "y": {"datum": -0.125, "axis": null}, "text": {"value": "= 1.7"}}}
         ],
         "resolve": {"axis": {"x": "independent", "y": "independent"}}},
        {"data": {"name": "leg"},
         "encoding": {"y": {"field": "s", "type": "ordinal", "scale": {"type": "point", "domain": ["0.00","0.05","0.10"], "range": [15, 37], "padding": 0}, "axis": null}},
         "layer": [
           {"mark": {"type": "rule", "stroke": "black", "strokeWidth": 0.8}, "encoding": {"x": {"datum": 0.198, "axis": null}, "x2": {"datum": 0.278}}},
           {"mark": {"type": "point", "filled": true, "stroke": "black", "strokeWidth": 0.7, "size": 24, "opacity": 1},
            "encoding": {"x": {"datum": 0.238, "axis": null}, "shape": {"field": "s", "type": "nominal", "legend": null}, "fill": {"field": "s", "type": "nominal", "legend": null}}},
           {"mark": {"type": "text", "align": "left", "baseline": "middle", "fontSize": 10.5, "fontStyle": "italic"}, "encoding": {"x": {"datum": 0.287, "axis": null}, "text": {"value": "h"}}},
           {"mark": {"type": "text", "align": "left", "baseline": "middle", "fontSize": 7, "fontStyle": "italic", "dx": 5.6, "dy": 2}, "encoding": {"x": {"datum": 0.287, "axis": null}, "text": {"value": "g"}}},
           {"mark": {"type": "text", "align": "left", "baseline": "middle", "fontSize": 10.5, "fontStyle": "italic", "dx": 9.6}, "encoding": {"x": {"datum": 0.287, "axis": null}, "text": {"value": "/H"}}},
           {"mark": {"type": "text", "align": "left", "baseline": "middle", "fontSize": 10.5, "dx": 20.4}, "encoding": {"x": {"datum": 0.287, "axis": null}, "text": {"field": "lab"}}}
         ]}
      ],
      "resolve": {"scale": {"y": "independent"}}
    },
    {
      "width": 232, "height": 208,
      "layer": [
        {"layer": [
          {"data": {"name": "d"}, "transform": [{"filter": "datum.p == 2"}],
           "encoding": {
             "x": {"field": "w", "type": "quantitative", "scale": {"domain": [0, 0.4], "nice": false, "zero": false},
                   "axis": {"title": "wᵣₘₛ/Uₛ", "titleFontStyle": "italic", "titleFontSize": 16, "titlePadding": 1, "labelPadding": 8, "tickSize": -5, "labelOverlap": false, "labelFlush": false, "format": ".2f", "values": [0,0.05,0.1,0.15,0.2,0.25,0.3,0.35,0.4]}},
             "y": {"field": "z", "type": "quantitative", "scale": {"domain": [-1, 1], "nice": false, "zero": false},
                   "axis": {"title": "z/H", "titleFontStyle": "italic", "titleFontSize": 18, "titlePadding": 1, "titleBaseline": "alphabetic", "labelPadding": 9, "tickSize": -5, "labelOverlap": false, "labelFlush": false, "values": [-1,-0.8,-0.6,-0.4,-0.2,0,0.2,0.4,0.6,0.8,1], "labelExpr": "replace(format(datum.value, '.1f'), '\u2212', '-')"}}
           },
           "layer": [
             {"mark": {"type": "line", "stroke": "black", "strokeWidth": 0.8}, "encoding": {"detail": {"field": "s"}, "order": {"field": "z", "type": "quantitative"}}},
             {"mark": {"type": "point", "filled": true, "stroke": "black", "strokeWidth": 0.7, "size": 24, "opacity": 1},
              "encoding": {"shape": {"field": "s", "type": "nominal", "scale": {"domain": ["0.00","0.05","0.10"], "range": ["square","triangle-up","circle"]}, "legend": null},
                           "fill": {"field": "s", "type": "nominal", "scale": {"domain": ["0.00","0.05","0.10"], "range": ["#ffffff","#000000","#ffffff"]}, "legend": null}}}
           ]},
          {"data": {"values": [{}]}, "mark": {"type": "point", "opacity": 0},
           "encoding": {"x": {"datum": 0, "axis": {"orient": "bottom", "title": null, "labels": false, "domain": false, "tickSize": -3, "values": [0,0.01,0.02,0.03,0.04,0.05,0.06,0.07,0.08,0.09,0.1,0.11,0.12,0.13,0.14,0.15,0.16,0.17,0.18,0.19,0.2,0.21,0.22,0.23,0.24,0.25,0.26,0.27,0.28,0.29,0.3,0.31,0.32,0.33,0.34,0.35,0.36,0.37,0.38,0.39,0.4]}},
                        "y": {"datum": 0, "axis": {"orient": "left", "title": null, "labels": false, "domain": false, "tickSize": -3, "values": [-1,-0.95,-0.9,-0.85,-0.8,-0.75,-0.7,-0.65,-0.6,-0.55,-0.5,-0.45,-0.4,-0.35,-0.3,-0.25,-0.2,-0.15,-0.1,-0.05,0,0.05,0.1,0.15,0.2,0.25,0.3,0.35,0.4,0.45,0.5,0.55,0.6,0.65,0.7,0.75,0.8,0.85,0.9,0.95,1]}}}},
          {"data": {"values": [{}]}, "mark": {"type": "rule", "stroke": "black", "strokeWidth": 1}, "encoding": {"y": {"datum": 0, "axis": null}}},
          {"data": {"values": [{}]}, "mark": {"type": "text", "fontSize": 12.5, "baseline": "alphabetic", "dy": -5}, "encoding": {"x": {"datum": 0.2, "axis": null}, "y": {"datum": 1, "axis": null}, "text": {"value": "(e) y/H=0.5, x/H=1.7"}}},
          {"data": {"values": [{}]}, "mark": {"type": "rule", "stroke": "black", "strokeWidth": 1.2}, "encoding": {"y": {"datum": 1.1538, "axis": null}, "x": {"datum": -0.0897, "axis": null}, "x2": {"datum": 0.4397}}},
          {"data": {"values": [{}]}, "mark": {"type": "rule", "stroke": "black", "strokeWidth": 1.2}, "encoding": {"y": {"datum": -1.3654, "axis": null}, "x": {"datum": -0.0897, "axis": null}, "x2": {"datum": 0.4397}}},
          {"data": {"values": [{}]}, "mark": {"type": "rule", "stroke": "black", "strokeWidth": 1.2}, "encoding": {"x": {"datum": -0.0897, "axis": null}, "y": {"datum": 1.1538, "axis": null}, "y2": {"datum": -1.3654}}}
         ],
         "resolve": {"axis": {"x": "independent", "y": "independent"}}},
        {"data": {"name": "leg"},
         "encoding": {"y": {"field": "s", "type": "ordinal", "scale": {"type": "point", "domain": ["0.00","0.05","0.10"], "range": [15, 37], "padding": 0}, "axis": null}},
         "layer": [
           {"mark": {"type": "rule", "stroke": "black", "strokeWidth": 0.8}, "encoding": {"x": {"datum": 0.191, "axis": null}, "x2": {"datum": 0.278}}},
           {"mark": {"type": "point", "filled": true, "stroke": "black", "strokeWidth": 0.7, "size": 24, "opacity": 1},
            "encoding": {"x": {"datum": 0.234, "axis": null}, "shape": {"field": "s", "type": "nominal", "legend": null}, "fill": {"field": "s", "type": "nominal", "legend": null}}},
           {"mark": {"type": "text", "align": "left", "baseline": "middle", "fontSize": 10.5, "fontStyle": "italic"}, "encoding": {"x": {"datum": 0.292, "axis": null}, "text": {"value": "h"}}},
           {"mark": {"type": "text", "align": "left", "baseline": "middle", "fontSize": 7, "fontStyle": "italic", "dx": 5.6, "dy": 2}, "encoding": {"x": {"datum": 0.292, "axis": null}, "text": {"value": "g"}}},
           {"mark": {"type": "text", "align": "left", "baseline": "middle", "fontSize": 10.5, "fontStyle": "italic", "dx": 9.6}, "encoding": {"x": {"datum": 0.292, "axis": null}, "text": {"value": "/H"}}},
           {"mark": {"type": "text", "align": "left", "baseline": "middle", "fontSize": 10.5, "dx": 20.4}, "encoding": {"x": {"datum": 0.292, "axis": null}, "text": {"field": "lab"}}}
         ]}
      ],
      "resolve": {"scale": {"y": "independent"}}
    },
    {
      "width": 232, "height": 208,
      "layer": [
        {"layer": [
          {"data": {"name": "d"}, "transform": [{"filter": "datum.p == 3"}],
           "encoding": {
             "x": {"field": "w", "type": "quantitative", "scale": {"domain": [0, 0.4], "nice": false, "zero": false},
                   "axis": {"title": "wᵣₘₛ/Uₛ", "titleFontStyle": "italic", "titleFontSize": 16, "titlePadding": 1, "labelPadding": 8, "tickSize": -5, "labelOverlap": false, "labelFlush": false, "format": ".2f", "values": [0,0.05,0.1,0.15,0.2,0.25,0.3,0.35,0.4]}},
             "y": {"field": "z", "type": "quantitative", "scale": {"domain": [-1, 1], "nice": false, "zero": false},
                   "axis": {"title": "z/H", "titleFontStyle": "italic", "titleFontSize": 18, "titlePadding": 1, "titleBaseline": "alphabetic", "labelPadding": 9, "tickSize": -5, "labelOverlap": false, "labelFlush": false, "values": [-1,-0.8,-0.6,-0.4,-0.2,0,0.2,0.4,0.6,0.8,1], "labelExpr": "replace(format(datum.value, '.1f'), '\u2212', '-')"}}
           },
           "layer": [
             {"mark": {"type": "line", "stroke": "black", "strokeWidth": 0.8}, "encoding": {"detail": {"field": "s"}, "order": {"field": "z", "type": "quantitative"}}},
             {"mark": {"type": "point", "filled": true, "stroke": "black", "strokeWidth": 0.7, "size": 24, "opacity": 1},
              "encoding": {"shape": {"field": "s", "type": "nominal", "scale": {"domain": ["0.00","0.05","0.10"], "range": ["square","triangle-up","circle"]}, "legend": null},
                           "fill": {"field": "s", "type": "nominal", "scale": {"domain": ["0.00","0.05","0.10"], "range": ["#ffffff","#000000","#ffffff"]}, "legend": null}}}
           ]},
          {"data": {"values": [{}]}, "mark": {"type": "point", "opacity": 0},
           "encoding": {"x": {"datum": 0, "axis": {"orient": "bottom", "title": null, "labels": false, "domain": false, "tickSize": -3, "values": [0,0.01,0.02,0.03,0.04,0.05,0.06,0.07,0.08,0.09,0.1,0.11,0.12,0.13,0.14,0.15,0.16,0.17,0.18,0.19,0.2,0.21,0.22,0.23,0.24,0.25,0.26,0.27,0.28,0.29,0.3,0.31,0.32,0.33,0.34,0.35,0.36,0.37,0.38,0.39,0.4]}},
                        "y": {"datum": 0, "axis": {"orient": "left", "title": null, "labels": false, "domain": false, "tickSize": -3, "values": [-1,-0.95,-0.9,-0.85,-0.8,-0.75,-0.7,-0.65,-0.6,-0.55,-0.5,-0.45,-0.4,-0.35,-0.3,-0.25,-0.2,-0.15,-0.1,-0.05,0,0.05,0.1,0.15,0.2,0.25,0.3,0.35,0.4,0.45,0.5,0.55,0.6,0.65,0.7,0.75,0.8,0.85,0.9,0.95,1]}}}},
          {"data": {"values": [{}]}, "mark": {"type": "rule", "stroke": "black", "strokeWidth": 1}, "encoding": {"y": {"datum": 0, "axis": null}}},
          {"data": {"values": [{}]}, "mark": {"type": "text", "fontSize": 12.5, "baseline": "alphabetic", "dy": -5}, "encoding": {"x": {"datum": 0.2, "axis": null}, "y": {"datum": 1, "axis": null}, "text": {"value": "(e) y/H=0.8, x/H=1.7"}}},
          {"data": {"values": [{}]}, "mark": {"type": "rule", "stroke": "black", "strokeWidth": 1.2}, "encoding": {"y": {"datum": 1.1538, "axis": null}, "x": {"datum": -0.0897, "axis": null}, "x2": {"datum": 0.4198}}},
          {"data": {"values": [{}]}, "mark": {"type": "rule", "stroke": "black", "strokeWidth": 1.2}, "encoding": {"y": {"datum": -1.3654, "axis": null}, "x": {"datum": -0.0897, "axis": null}, "x2": {"datum": 0.4198}}},
          {"data": {"values": [{}]}, "mark": {"type": "rule", "stroke": "black", "strokeWidth": 1.2}, "encoding": {"x": {"datum": -0.0897, "axis": null}, "y": {"datum": 1.1538, "axis": null}, "y2": {"datum": -1.3654}}}
         ],
         "resolve": {"axis": {"x": "independent", "y": "independent"}}},
        {"data": {"name": "leg"},
         "encoding": {"y": {"field": "s", "type": "ordinal", "scale": {"type": "point", "domain": ["0.00","0.05","0.10"], "range": [10, 32], "padding": 0}, "axis": null}},
         "layer": [
           {"mark": {"type": "rule", "stroke": "black", "strokeWidth": 0.8}, "encoding": {"x": {"datum": 0.186, "axis": null}, "x2": {"datum": 0.285}}},
           {"mark": {"type": "point", "filled": true, "stroke": "black", "strokeWidth": 0.7, "size": 24, "opacity": 1},
            "encoding": {"x": {"datum": 0.238, "axis": null}, "shape": {"field": "s", "type": "nominal", "legend": null}, "fill": {"field": "s", "type": "nominal", "legend": null}}},
           {"mark": {"type": "text", "align": "left", "baseline": "middle", "fontSize": 10.5, "fontStyle": "italic"}, "encoding": {"x": {"datum": 0.297, "axis": null}, "text": {"value": "h"}}},
           {"mark": {"type": "text", "align": "left", "baseline": "middle", "fontSize": 7, "fontStyle": "italic", "dx": 5.6, "dy": 2}, "encoding": {"x": {"datum": 0.297, "axis": null}, "text": {"value": "g"}}},
           {"mark": {"type": "text", "align": "left", "baseline": "middle", "fontSize": 10.5, "fontStyle": "italic", "dx": 9.6}, "encoding": {"x": {"datum": 0.297, "axis": null}, "text": {"value": "/H"}}},
           {"mark": {"type": "text", "align": "left", "baseline": "middle", "fontSize": 10.5, "dx": 20.4}, "encoding": {"x": {"datum": 0.297, "axis": null}, "text": {"field": "lab"}}}
         ]}
      ],
      "resolve": {"scale": {"y": "independent"}}
    },
    {
      "width": 232, "height": 208,
      "layer": [
        {"layer": [
          {"data": {"name": "d"}, "transform": [{"filter": "datum.p == 4"}],
           "encoding": {
             "x": {"field": "w", "type": "quantitative", "scale": {"domain": [0, 0.4], "nice": false, "zero": false},
                   "axis": {"title": "wᵣₘₛ/Uₛ", "titleFontStyle": "italic", "titleFontSize": 16, "titlePadding": 1, "labelPadding": 8, "tickSize": -5, "labelOverlap": false, "labelFlush": false, "format": ".2f", "values": [0,0.05,0.1,0.15,0.2,0.25,0.3,0.35,0.4]}},
             "y": {"field": "z", "type": "quantitative", "scale": {"domain": [-1, 1], "nice": false, "zero": false},
                   "axis": {"title": "z/H", "titleFontStyle": "italic", "titleFontSize": 18, "titlePadding": 1, "titleBaseline": "alphabetic", "labelPadding": 9, "tickSize": -5, "labelOverlap": false, "labelFlush": false, "values": [-1,-0.8,-0.6,-0.4,-0.2,0,0.2,0.4,0.6,0.8,1], "labelExpr": "replace(format(datum.value, '.1f'), '\u2212', '-')"}}
           },
           "layer": [
             {"mark": {"type": "line", "stroke": "black", "strokeWidth": 0.8}, "encoding": {"detail": {"field": "s"}, "order": {"field": "z", "type": "quantitative"}}},
             {"mark": {"type": "point", "filled": true, "stroke": "black", "strokeWidth": 0.7, "size": 24, "opacity": 1},
              "encoding": {"shape": {"field": "s", "type": "nominal", "scale": {"domain": ["0.00","0.05","0.10"], "range": ["square","triangle-up","circle"]}, "legend": null},
                           "fill": {"field": "s", "type": "nominal", "scale": {"domain": ["0.00","0.05","0.10"], "range": ["#ffffff","#000000","#ffffff"]}, "legend": null}}}
           ]},
          {"data": {"values": [{}]}, "mark": {"type": "point", "opacity": 0},
           "encoding": {"x": {"datum": 0, "axis": {"orient": "bottom", "title": null, "labels": false, "domain": false, "tickSize": -3, "values": [0,0.01,0.02,0.03,0.04,0.05,0.06,0.07,0.08,0.09,0.1,0.11,0.12,0.13,0.14,0.15,0.16,0.17,0.18,0.19,0.2,0.21,0.22,0.23,0.24,0.25,0.26,0.27,0.28,0.29,0.3,0.31,0.32,0.33,0.34,0.35,0.36,0.37,0.38,0.39,0.4]}},
                        "y": {"datum": 0, "axis": {"orient": "left", "title": null, "labels": false, "domain": false, "tickSize": -3, "values": [-1,-0.95,-0.9,-0.85,-0.8,-0.75,-0.7,-0.65,-0.6,-0.55,-0.5,-0.45,-0.4,-0.35,-0.3,-0.25,-0.2,-0.15,-0.1,-0.05,0,0.05,0.1,0.15,0.2,0.25,0.3,0.35,0.4,0.45,0.5,0.55,0.6,0.65,0.7,0.75,0.8,0.85,0.9,0.95,1]}}}},
          {"data": {"values": [{}]}, "mark": {"type": "rule", "stroke": "black", "strokeWidth": 1}, "encoding": {"y": {"datum": 0, "axis": null}}},
          {"data": {"values": [{}]}, "mark": {"type": "text", "fontSize": 12.5, "baseline": "alphabetic", "dy": -2}, "encoding": {"x": {"datum": 0.2, "axis": null}, "y": {"datum": 1, "axis": null}, "text": {"value": "(f) y/H=0.1, x/H=2.1"}}},
          {"data": {"values": [{}]}, "mark": {"type": "rule", "stroke": "black", "strokeWidth": 1.2}, "encoding": {"x": {"datum": -0.1466, "axis": null}, "y": {"datum": 1.3846, "axis": null}, "y2": {"datum": -1.3365}}},
          {"data": {"values": [{}]}, "mark": {"type": "rule", "stroke": "black", "strokeWidth": 1.2}, "encoding": {"x": {"datum": -0.0905, "axis": null}, "y": {"datum": 1.3846, "axis": null}, "y2": {"datum": -1.3365}}},
          {"data": {"values": [{}]}, "mark": {"type": "text", "angle": 270, "fontSize": 22, "fontStyle": "italic", "align": "right", "baseline": "middle", "dx": -9.5}, "encoding": {"x": {"datum": -0.1129, "axis": null}, "y": {"datum": -0.019, "axis": null}, "text": {"value": "x/H"}}},
          {"data": {"values": [{}]}, "mark": {"type": "text", "angle": 270, "fontSize": 22, "align": "left", "baseline": "middle", "dx": -4}, "encoding": {"x": {"datum": -0.1129, "axis": null}, "y": {"datum": -0.019, "axis": null}, "text": {"value": "= 2.1"}}}
         ],
         "resolve": {"axis": {"x": "independent", "y": "independent"}}},
        {"data": {"name": "leg"},
         "encoding": {"y": {"field": "s", "type": "ordinal", "scale": {"type": "point", "domain": ["0.00","0.05","0.10"], "range": [22, 44], "padding": 0}, "axis": null}},
         "layer": [
           {"mark": {"type": "rule", "stroke": "black", "strokeWidth": 0.8}, "encoding": {"x": {"datum": 0.189, "axis": null}, "x2": {"datum": 0.275}}},
           {"mark": {"type": "point", "filled": true, "stroke": "black", "strokeWidth": 0.7, "size": 24, "opacity": 1},
            "encoding": {"x": {"datum": 0.232, "axis": null}, "shape": {"field": "s", "type": "nominal", "legend": null}, "fill": {"field": "s", "type": "nominal", "legend": null}}},
           {"mark": {"type": "text", "align": "left", "baseline": "middle", "fontSize": 10.5, "fontStyle": "italic"}, "encoding": {"x": {"datum": 0.288, "axis": null}, "text": {"value": "h"}}},
           {"mark": {"type": "text", "align": "left", "baseline": "middle", "fontSize": 7, "fontStyle": "italic", "dx": 5.6, "dy": 2}, "encoding": {"x": {"datum": 0.288, "axis": null}, "text": {"value": "g"}}},
           {"mark": {"type": "text", "align": "left", "baseline": "middle", "fontSize": 10.5, "fontStyle": "italic", "dx": 9.6}, "encoding": {"x": {"datum": 0.288, "axis": null}, "text": {"value": "/H"}}},
           {"mark": {"type": "text", "align": "left", "baseline": "middle", "fontSize": 10.5, "dx": 20.4}, "encoding": {"x": {"datum": 0.288, "axis": null}, "text": {"field": "lab"}}}
         ]}
      ],
      "resolve": {"scale": {"y": "independent"}}
    },
    {
      "width": 232, "height": 208,
      "layer": [
        {"layer": [
          {"data": {"name": "d"}, "transform": [{"filter": "datum.p == 5"}],
           "encoding": {
             "x": {"field": "w", "type": "quantitative", "scale": {"domain": [0, 0.4], "nice": false, "zero": false},
                   "axis": {"title": "wᵣₘₛ/Uₛ", "titleFontStyle": "italic", "titleFontSize": 16, "titlePadding": 1, "labelPadding": 8, "tickSize": -5, "labelOverlap": false, "labelFlush": false, "format": ".2f", "values": [0,0.05,0.1,0.15,0.2,0.25,0.3,0.35,0.4]}},
             "y": {"field": "z", "type": "quantitative", "scale": {"domain": [-1, 1], "nice": false, "zero": false},
                   "axis": {"title": "z/H", "titleFontStyle": "italic", "titleFontSize": 18, "titlePadding": 1, "titleBaseline": "alphabetic", "labelPadding": 9, "tickSize": -5, "labelOverlap": false, "labelFlush": false, "values": [-1,-0.8,-0.6,-0.4,-0.2,0,0.2,0.4,0.6,0.8,1], "labelExpr": "replace(format(datum.value, '.1f'), '\u2212', '-')"}}
           },
           "layer": [
             {"mark": {"type": "line", "stroke": "black", "strokeWidth": 0.8}, "encoding": {"detail": {"field": "s"}, "order": {"field": "z", "type": "quantitative"}}},
             {"mark": {"type": "point", "filled": true, "stroke": "black", "strokeWidth": 0.7, "size": 24, "opacity": 1},
              "encoding": {"shape": {"field": "s", "type": "nominal", "scale": {"domain": ["0.00","0.05","0.10"], "range": ["square","triangle-up","circle"]}, "legend": null},
                           "fill": {"field": "s", "type": "nominal", "scale": {"domain": ["0.00","0.05","0.10"], "range": ["#ffffff","#000000","#ffffff"]}, "legend": null}}}
           ]},
          {"data": {"values": [{}]}, "mark": {"type": "point", "opacity": 0},
           "encoding": {"x": {"datum": 0, "axis": {"orient": "bottom", "title": null, "labels": false, "domain": false, "tickSize": -3, "values": [0,0.01,0.02,0.03,0.04,0.05,0.06,0.07,0.08,0.09,0.1,0.11,0.12,0.13,0.14,0.15,0.16,0.17,0.18,0.19,0.2,0.21,0.22,0.23,0.24,0.25,0.26,0.27,0.28,0.29,0.3,0.31,0.32,0.33,0.34,0.35,0.36,0.37,0.38,0.39,0.4]}},
                        "y": {"datum": 0, "axis": {"orient": "left", "title": null, "labels": false, "domain": false, "tickSize": -3, "values": [-1,-0.95,-0.9,-0.85,-0.8,-0.75,-0.7,-0.65,-0.6,-0.55,-0.5,-0.45,-0.4,-0.35,-0.3,-0.25,-0.2,-0.15,-0.1,-0.05,0,0.05,0.1,0.15,0.2,0.25,0.3,0.35,0.4,0.45,0.5,0.55,0.6,0.65,0.7,0.75,0.8,0.85,0.9,0.95,1]}}}},
          {"data": {"values": [{}]}, "mark": {"type": "rule", "stroke": "black", "strokeWidth": 1}, "encoding": {"y": {"datum": 0, "axis": null}}},
          {"data": {"values": [{}]}, "mark": {"type": "text", "fontSize": 12.5, "baseline": "alphabetic", "dy": -2}, "encoding": {"x": {"datum": 0.2, "axis": null}, "y": {"datum": 1, "axis": null}, "text": {"value": "(f) y/H=0.5, x/H=2.1"}}},
          {"data": {"values": [{}]}, "mark": {"type": "rule", "stroke": "black", "strokeWidth": 1.2}, "encoding": {"x": {"datum": -0.0897, "axis": null}, "y": {"datum": 1.3846, "axis": null}, "y2": {"datum": -1.3365}}}
         ],
         "resolve": {"axis": {"x": "independent", "y": "independent"}}},
        {"data": {"name": "leg"},
         "encoding": {"y": {"field": "s", "type": "ordinal", "scale": {"type": "point", "domain": ["0.00","0.05","0.10"], "range": [22, 44], "padding": 0}, "axis": null}},
         "layer": [
           {"mark": {"type": "rule", "stroke": "black", "strokeWidth": 0.8}, "encoding": {"x": {"datum": 0.206, "axis": null}, "x2": {"datum": 0.292}}},
           {"mark": {"type": "point", "filled": true, "stroke": "black", "strokeWidth": 0.7, "size": 24, "opacity": 1},
            "encoding": {"x": {"datum": 0.249, "axis": null}, "shape": {"field": "s", "type": "nominal", "legend": null}, "fill": {"field": "s", "type": "nominal", "legend": null}}},
           {"mark": {"type": "text", "align": "left", "baseline": "middle", "fontSize": 10.5, "fontStyle": "italic"}, "encoding": {"x": {"datum": 0.302, "axis": null}, "text": {"value": "h"}}},
           {"mark": {"type": "text", "align": "left", "baseline": "middle", "fontSize": 7, "fontStyle": "italic", "dx": 5.6, "dy": 2}, "encoding": {"x": {"datum": 0.302, "axis": null}, "text": {"value": "g"}}},
           {"mark": {"type": "text", "align": "left", "baseline": "middle", "fontSize": 10.5, "fontStyle": "italic", "dx": 9.6}, "encoding": {"x": {"datum": 0.302, "axis": null}, "text": {"value": "/H"}}},
           {"mark": {"type": "text", "align": "left", "baseline": "middle", "fontSize": 10.5, "dx": 20.4}, "encoding": {"x": {"datum": 0.302, "axis": null}, "text": {"field": "lab"}}}
         ]}
      ],
      "resolve": {"scale": {"y": "independent"}}
    },
    {
      "width": 232, "height": 208,
      "layer": [
        {"layer": [
          {"data": {"name": "d"}, "transform": [{"filter": "datum.p == 6"}],
           "encoding": {
             "x": {"field": "w", "type": "quantitative", "scale": {"domain": [0, 0.4], "nice": false, "zero": false},
                   "axis": {"title": "wᵣₘₛ/Uₛ", "titleFontStyle": "italic", "titleFontSize": 16, "titlePadding": 1, "labelPadding": 8, "tickSize": -5, "labelOverlap": false, "labelFlush": false, "format": ".2f", "values": [0,0.05,0.1,0.15,0.2,0.25,0.3,0.35,0.4]}},
             "y": {"field": "z", "type": "quantitative", "scale": {"domain": [-1, 1], "nice": false, "zero": false},
                   "axis": {"title": "z/H", "titleFontStyle": "italic", "titleFontSize": 18, "titlePadding": 1, "titleBaseline": "alphabetic", "labelPadding": 9, "tickSize": -5, "labelOverlap": false, "labelFlush": false, "values": [-1,-0.8,-0.6,-0.4,-0.2,0,0.2,0.4,0.6,0.8,1], "labelExpr": "replace(format(datum.value, '.1f'), '\u2212', '-')"}}
           },
           "layer": [
             {"mark": {"type": "line", "stroke": "black", "strokeWidth": 0.8}, "encoding": {"detail": {"field": "s"}, "order": {"field": "z", "type": "quantitative"}}},
             {"mark": {"type": "point", "filled": true, "stroke": "black", "strokeWidth": 0.7, "size": 24, "opacity": 1},
              "encoding": {"shape": {"field": "s", "type": "nominal", "scale": {"domain": ["0.00","0.05","0.10"], "range": ["square","triangle-up","circle"]}, "legend": null},
                           "fill": {"field": "s", "type": "nominal", "scale": {"domain": ["0.00","0.05","0.10"], "range": ["#ffffff","#000000","#ffffff"]}, "legend": null}}}
           ]},
          {"data": {"values": [{}]}, "mark": {"type": "point", "opacity": 0},
           "encoding": {"x": {"datum": 0, "axis": {"orient": "bottom", "title": null, "labels": false, "domain": false, "tickSize": -3, "values": [0,0.01,0.02,0.03,0.04,0.05,0.06,0.07,0.08,0.09,0.1,0.11,0.12,0.13,0.14,0.15,0.16,0.17,0.18,0.19,0.2,0.21,0.22,0.23,0.24,0.25,0.26,0.27,0.28,0.29,0.3,0.31,0.32,0.33,0.34,0.35,0.36,0.37,0.38,0.39,0.4]}},
                        "y": {"datum": 0, "axis": {"orient": "left", "title": null, "labels": false, "domain": false, "tickSize": -3, "values": [-1,-0.95,-0.9,-0.85,-0.8,-0.75,-0.7,-0.65,-0.6,-0.55,-0.5,-0.45,-0.4,-0.35,-0.3,-0.25,-0.2,-0.15,-0.1,-0.05,0,0.05,0.1,0.15,0.2,0.25,0.3,0.35,0.4,0.45,0.5,0.55,0.6,0.65,0.7,0.75,0.8,0.85,0.9,0.95,1]}}}},
          {"data": {"values": [{}]}, "mark": {"type": "rule", "stroke": "black", "strokeWidth": 1}, "encoding": {"y": {"datum": 0, "axis": null}}},
          {"data": {"values": [{}]}, "mark": {"type": "text", "fontSize": 12.5, "baseline": "alphabetic", "dy": -2}, "encoding": {"x": {"datum": 0.2, "axis": null}, "y": {"datum": 1, "axis": null}, "text": {"value": "(f) y/H=0.8, x/H=2.1"}}},
          {"data": {"values": [{}]}, "mark": {"type": "rule", "stroke": "black", "strokeWidth": 1.2}, "encoding": {"x": {"datum": -0.0897, "axis": null}, "y": {"datum": 1.3846, "axis": null}, "y2": {"datum": -1.3365}}}
         ],
         "resolve": {"axis": {"x": "independent", "y": "independent"}}},
        {"data": {"name": "leg"},
         "encoding": {"y": {"field": "s", "type": "ordinal", "scale": {"type": "point", "domain": ["0.00","0.05","0.10"], "range": [21, 43], "padding": 0}, "axis": null}},
         "layer": [
           {"mark": {"type": "rule", "stroke": "black", "strokeWidth": 0.8}, "encoding": {"x": {"datum": 0.2, "axis": null}, "x2": {"datum": 0.287}}},
           {"mark": {"type": "point", "filled": true, "stroke": "black", "strokeWidth": 0.7, "size": 24, "opacity": 1},
            "encoding": {"x": {"datum": 0.244, "axis": null}, "shape": {"field": "s", "type": "nominal", "legend": null}, "fill": {"field": "s", "type": "nominal", "legend": null}}},
           {"mark": {"type": "text", "align": "left", "baseline": "middle", "fontSize": 10.5, "fontStyle": "italic"}, "encoding": {"x": {"datum": 0.299, "axis": null}, "text": {"value": "h"}}},
           {"mark": {"type": "text", "align": "left", "baseline": "middle", "fontSize": 7, "fontStyle": "italic", "dx": 5.6, "dy": 2}, "encoding": {"x": {"datum": 0.299, "axis": null}, "text": {"value": "g"}}},
           {"mark": {"type": "text", "align": "left", "baseline": "middle", "fontSize": 10.5, "fontStyle": "italic", "dx": 9.6}, "encoding": {"x": {"datum": 0.299, "axis": null}, "text": {"value": "/H"}}},
           {"mark": {"type": "text", "align": "left", "baseline": "middle", "fontSize": 10.5, "dx": 20.4}, "encoding": {"x": {"datum": 0.299, "axis": null}, "text": {"field": "lab"}}}
         ]}
      ],
      "resolve": {"scale": {"y": "independent"}}
    }
  ]
}
